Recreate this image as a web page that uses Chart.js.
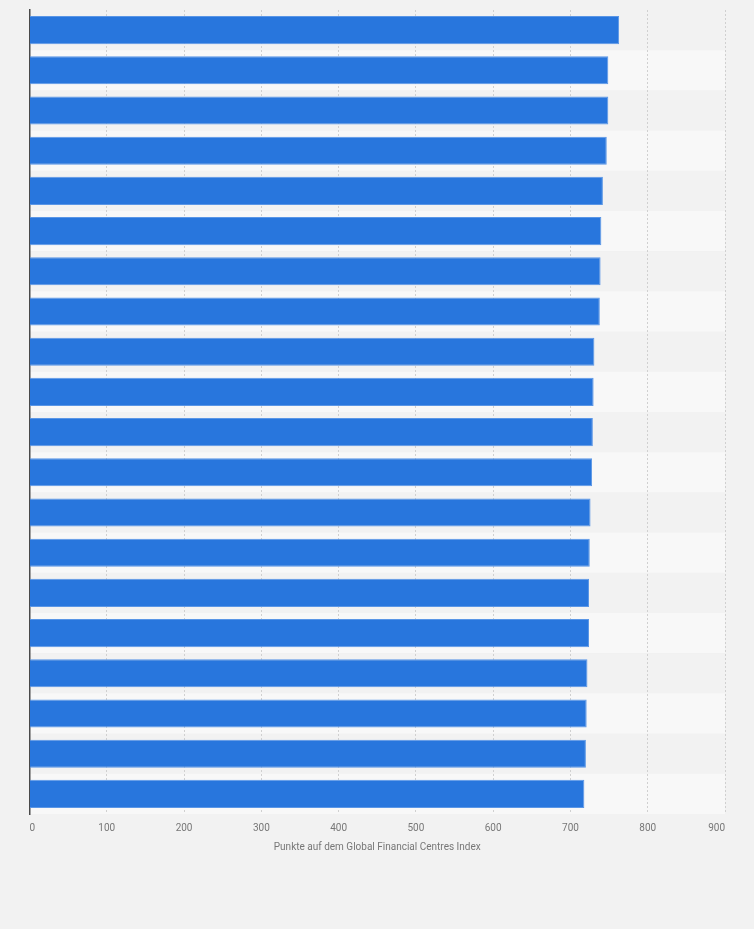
<!DOCTYPE html>
<html>
<head>
<meta charset="utf-8">
<script src="https://cdn.jsdelivr.net/npm/chart.js@4.4.0/dist/chart.umd.min.js"></script>
<style>
  html, body { margin: 0; padding: 0; background: #f2f2f2; }
  #wrap { position: relative; width: 754px; height: 929px; }
</style>
</head>
<body>
<div id="wrap"><canvas id="chart"></canvas></div>
<script>
// ranks on the y axis (labels are not shown in the picture)
const categories = ['1', '2', '3', '4', '5', '6', '7', '8', '9', '10',
  '11', '12', '13', '14', '15', '16', '17', '18', '19', '20'];
// GFCI points
const points = [763, 749, 749, 747, 742, 740, 739, 738, 731, 730,
  729, 728, 726, 725, 724, 724, 722, 721, 720, 718];
const xTicks = [0, 100, 200, 300, 400, 500, 600, 700, 800, 900];
const axisTitle = 'Punkte auf dem Global Financial Centres Index';

// alternating row background behind the bars
const stripes = {
  id: 'stripes',
  beforeDraw(chart) {
    const { ctx, chartArea, scales } = chart;
    const y = scales.y;
    const rowH = (chartArea.bottom - chartArea.top) / categories.length;
    ctx.save();
    categories.forEach((c, i) => {
      const mid = y.getPixelForValue(i);
      ctx.fillStyle = i % 2 === 0 ? '#f2f2f2' : '#f8f8f8';
      ctx.fillRect(chartArea.left, mid - rowH / 2, chartArea.right - chartArea.left, rowH);
    });
    ctx.restore();
  }
};

const ctx = document.getElementById('chart').getContext('2d');
new Chart(ctx, {
  type: 'bar',
  data: {
    labels: categories,
    datasets: [{
      data: points,
      backgroundColor: '#2876dd',
      borderColor: '#5a96e6',
      borderWidth: 1,
      barPercentage: 0.7,
      categoryPercentage: 1
    }]
  },
  options: {
    indexAxis: 'y',
    responsive: true,
    maintainAspectRatio: false,
    animation: false,
    layout: { padding: { top: 10, right: 29, left: 29.5, bottom: 77 } },
    plugins: {
      legend: { display: false },
      tooltip: { enabled: false }
    },
    scales: {
      x: {
        min: 0,
        max: 900,
        afterBuildTicks: axis => { axis.ticks = xTicks.map(v => ({ value: v })); },
        grid: { color: ctx => ctx.tick && ctx.tick.value === 0 ? 'rgba(0,0,0,0)' : '#d0d0d0', lineWidth: 1, drawTicks: false },
        border: { display: false, dash: [2, 2] },
        ticks: {
          padding: 8,
          align: 'inner',
          color: '#777',
          font: { family: 'Roboto, "Liberation Sans", sans-serif', size: 10 }
        },
        title: {
          display: true,
          text: axisTitle,
          color: '#777',
          padding: { top: 0, bottom: 0 },
          font: { family: 'Roboto, "Liberation Sans", sans-serif', size: 10, lineHeight: 1 }
        }
      },
      y: {
        grid: { display: false, drawTicks: false },
        border: { display: true, color: '#4a4a4a', width: 1.5 },
        ticks: { display: false }
      }
    }
  },
  plugins: [stripes]
});
</script>
</body>
</html>
